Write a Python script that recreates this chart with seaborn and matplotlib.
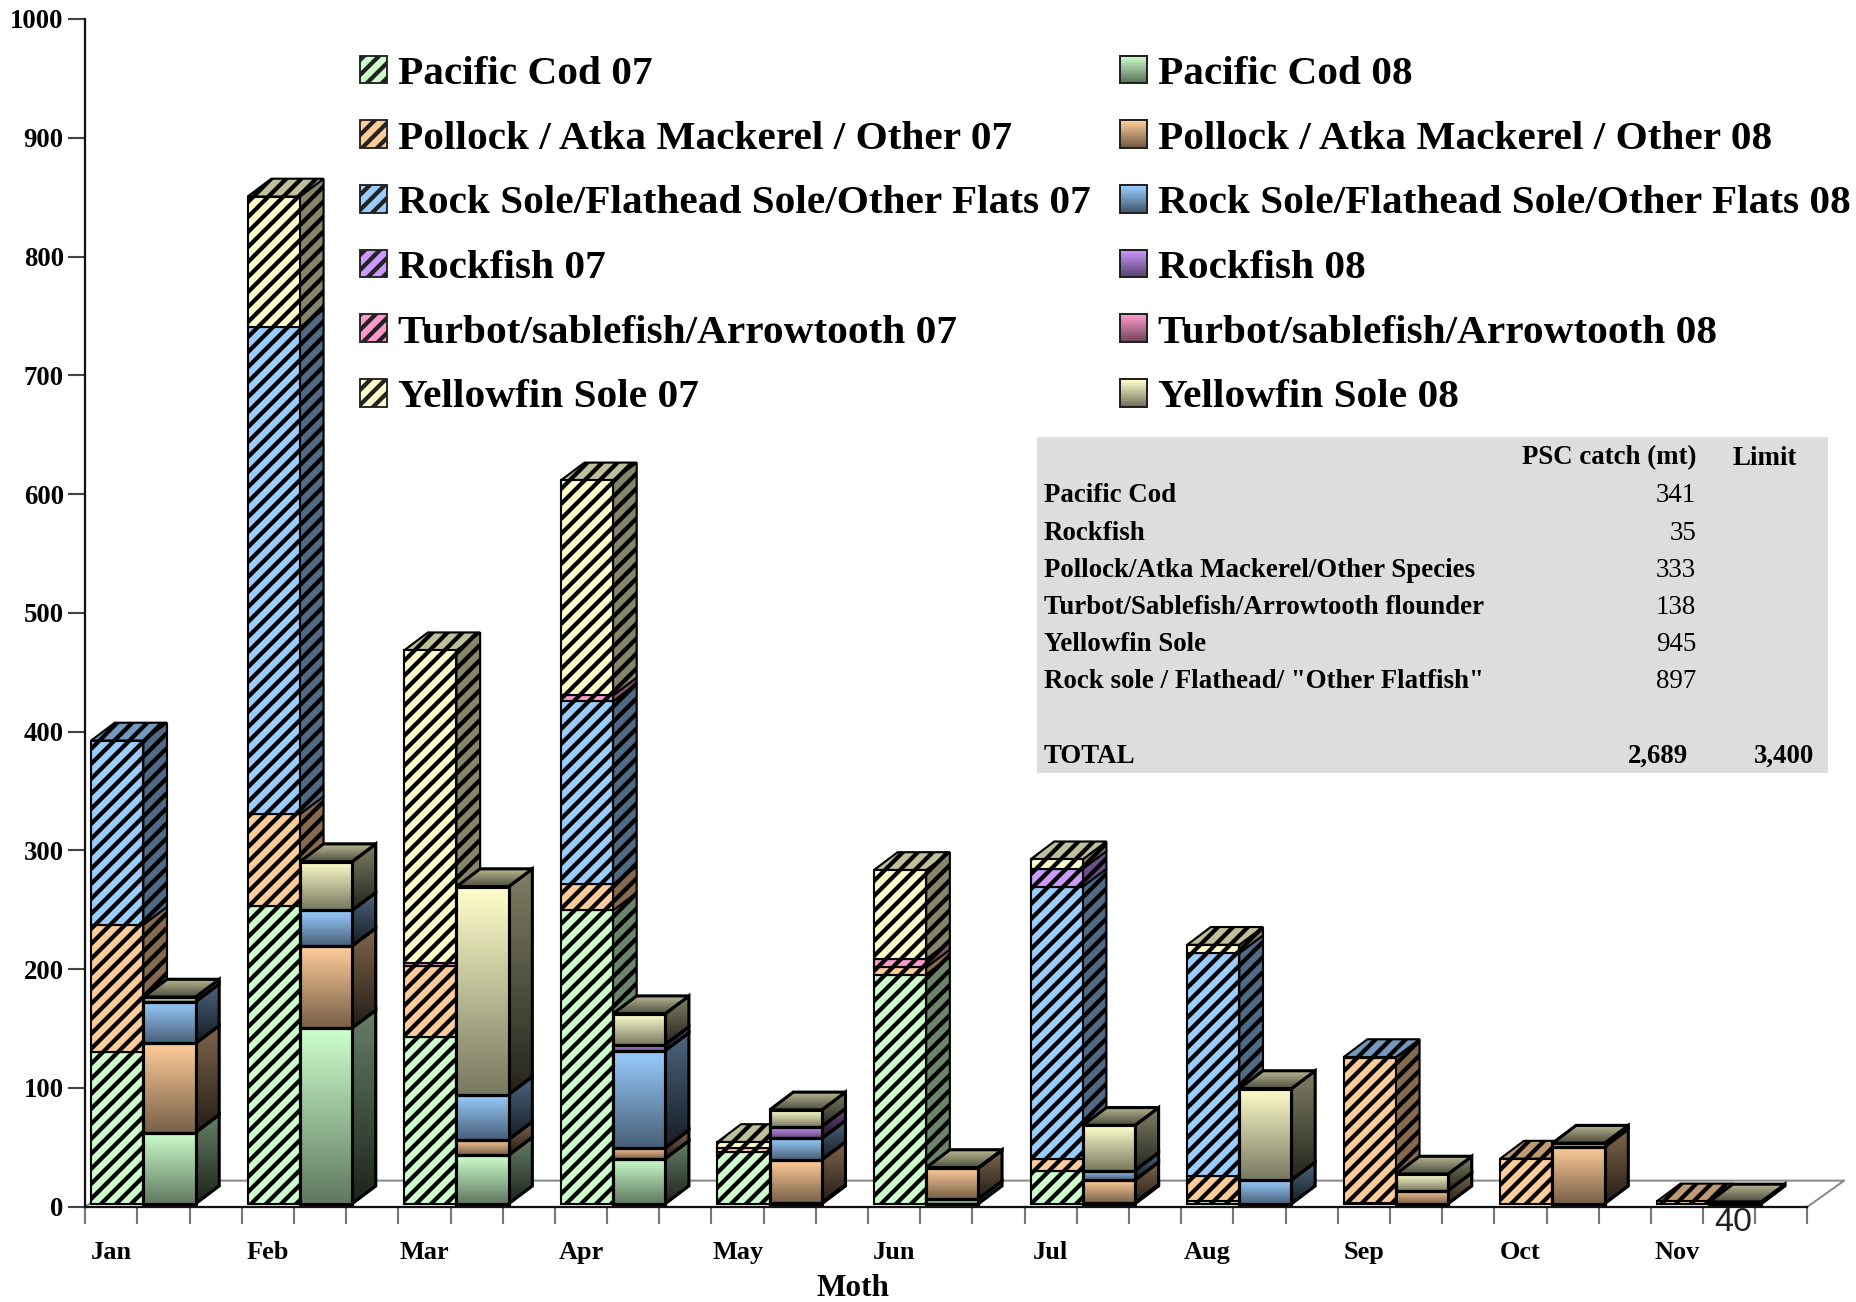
import numpy as np
import pandas as pd
import matplotlib
matplotlib.use('Agg')
import matplotlib.pyplot as plt
from matplotlib.legend_handler import HandlerBase
from matplotlib.patches import Patch, Polygon, Rectangle
from matplotlib.ticker import NullFormatter
import seaborn as sns

months = ['Jan', 'Feb', 'Mar', 'Apr', 'May', 'Jun', 'Jul', 'Aug', 'Sep', 'Oct', 'Nov']
y_ticks = [0, 100, 200, 300, 400, 500, 600, 700, 800, 900, 1000]

# bottom to top, one value per month
cod_07 = [128, 251, 140, 247, 44, 193, 28, 2, 1, 0, 0]
pollock_07 = [107, 77, 60, 22, 3, 6, 10, 21, 122, 38, 2]
rock_sole_07 = [155, 410, 0, 154, 0, 0, 229, 188, 0.5, 0, 0]
rockfish_07 = [0, 0, 0, 0, 0, 0, 15, 0, 0, 0, 0]
turbot_07 = [0, 0, 3, 5, 0, 7, 0, 0, 0, 0, 0]
yellowfin_07 = [0, 110, 263, 181, 5, 75, 8, 7, 0, 0, 0]

cod_08 = [60, 148, 41, 38, 1, 4, 1, 0, 0, 0, 0]
pollock_08 = [75, 69, 13, 9, 36, 26, 19, 0, 11, 48, 0]
rock_sole_08 = [35, 30, 38, 82, 18, 0, 8, 20, 0, 0, 1]
rockfish_08 = [0, 0, 0, 5, 10, 0, 0, 0, 0, 0, 0]
turbot_08 = [0, 0, 0, 0, 0, 0, 0, 0, 0, 0, 0]
yellowfin_08 = [4, 41, 175, 26, 14, 0.5, 38, 77, 14, 3, 0.5]

series_names = ['Pacific Cod', 'Pollock / Atka Mackerel / Other',
                'Rock Sole/Flathead Sole/Other Flats', 'Rockfish',
                'Turbot/sablefish/Arrowtooth', 'Yellowfin Sole']
series_colors = ['#CCFFCC', '#FFCC99', '#99CCFF', '#CC99FF', '#FF99CC', '#FFFFCC']
values_07 = [cod_07, pollock_07, rock_sole_07, rockfish_07, turbot_07, yellowfin_07]
values_08 = [cod_08, pollock_08, rock_sole_08, rockfish_08, turbot_08, yellowfin_08]

table_header = ['PSC catch (mt)', 'Limit']
table_rows = ['Pacific Cod', 'Rockfish', 'Pollock/Atka Mackerel/Other Species',
              'Turbot/Sablefish/Arrowtooth flounder', 'Yellowfin Sole',
              'Rock sole / Flathead/ "Other Flatfish"']
table_catch = ['341', '35', '333', '138', '945', '897']
table_total = ['TOTAL', '2,689', '3,400']

W, H = 1856, 1302
DPI = 90
S = W / 1568  # the measurements below were taken on the 1568 wide view

# slot width and 3d depth
SLOT_PX = 1455 / 33
BAR_DX = 20 / SLOT_PX
BAR_DY = 15
FLOOR_DX = 31 / SLOT_PX
FLOOR_DY = 22
BASE = 2.5
X_LEFT = -5 / SLOT_PX - 0.5
HATCH = '//'

sns.set_theme(style='white')
plt.rcParams['font.family'] = ['Liberation Serif', 'DejaVu Serif']
plt.rcParams['font.weight'] = 'bold'
plt.rcParams['hatch.linewidth'] = 3.4


def shade(color, k):
    return np.array(matplotlib.colors.to_rgb(color)) * k


def gradient_face(ax, verts, start, stop, z):
    # start is the colour at the top of the face
    verts = np.array(verts)
    ramp = np.linspace(0, 1, 64)[:, None, None]
    img = start * (1 - ramp) + stop * ramp
    extent = (verts[:, 0].min(), verts[:, 0].max(), verts[:, 1].min(), verts[:, 1].max())
    im = ax.imshow(img, extent=extent, origin='upper', aspect='auto',
                   interpolation='bilinear', zorder=z)
    clip = Polygon(verts, transform=ax.transData, facecolor='none', edgecolor='none')
    im.set_clip_path(clip)


class GradientHandler(HandlerBase):
    def create_artists(self, legend, handle, xd, yd, width, height, fontsize, trans):
        base = handle.get_facecolor()[:3]
        out = []
        n = 14
        for i in range(n):
            k = 1 - 0.55 * i / (n - 1)
            out.append(Rectangle((-xd, -yd + height * (n - 1 - i) / n), width, height / n + 0.3,
                                 facecolor=shade(base, k), edgecolor='none', transform=trans))
        out.append(Rectangle((-xd, -yd), width, height, facecolor='none', edgecolor='#222222',
                             lw=1.6, transform=trans))
        return out


fig = plt.figure(figsize=(W / DPI, H / DPI), dpi=DPI)
ax_left = 72 * S / W
ax_right = 1527 * S / W
ax_top = 1 - 16 * S / H
ax_bottom = 1 - 1019.5 * S / H
ax = fig.add_axes([ax_left, ax_bottom, ax_right - ax_left, ax_top - ax_bottom])

slots = list(range(33))
faces = []
for year, table, lw in [(7, values_07, 1.7), (8, values_08, 2.5)]:
    offset = 0 if year == 7 else 1
    bottoms = np.full(len(months), BASE, dtype=float)
    for name, color, vals in zip(series_names, series_colors, table):
        vals = np.array(vals, dtype=float)
        keep = vals > 0
        if keep.any():
            df = pd.DataFrame({'slot': np.arange(len(months))[keep] * 3 + offset, 'catch': vals[keep]})
            before = len(ax.patches)
            kws = {'hatch': HATCH} if year == 7 else {}
            sns.barplot(data=df, x='slot', y='catch', order=slots, bottom=bottoms[keep], width=1.0,
                        color=color, saturation=1, edgecolor='black', linewidth=lw, errorbar=None,
                        ax=ax, **kws)
            for patch in ax.patches[before:]:
                faces.append((patch, color, year))
        bottoms += vals

# 3d faces, later slots cover the earlier ones
tops = {}
for patch, color, year in faces:
    slot = int(round(patch.get_x() + patch.get_width() / 2))
    tops[slot] = max(tops.get(slot, 0), patch.get_y() + patch.get_height())

for patch, color, year in sorted(faces, key=lambda f: (round(f[0].get_x()), f[0].get_y())):
    x0 = patch.get_x()
    x1 = x0 + patch.get_width()
    b = patch.get_y()
    t = b + patch.get_height()
    slot = int(round((x0 + x1) / 2))
    z = 5 + slot * 2 + (b / 2000)
    lw = patch.get_linewidth()
    side = [(x1, b), (x1 + BAR_DX, b + BAR_DY), (x1 + BAR_DX, t + BAR_DY), (x1, t)]
    top = [(x0, t), (x1, t), (x1 + BAR_DX, t + BAR_DY), (x0 + BAR_DX, t + BAR_DY)]
    is_top = abs(t - tops[slot]) < 1e-6
    if year == 7:
        ax.add_patch(Polygon(side, facecolor=shade(color, 0.52), edgecolor='black', lw=lw,
                             hatch=HATCH, zorder=z))
        if is_top:
            ax.add_patch(Polygon(top, facecolor=shade(color, 0.75), edgecolor='black', lw=lw,
                                 hatch=HATCH, zorder=z + 0.2))
        patch.set_zorder(z + 0.4)
    else:
        gradient_face(ax, side, shade(color, 0.5), shade(color, 0.14), z)
        ax.add_patch(Polygon(side, facecolor='none', edgecolor='black', lw=lw, zorder=z + 0.05))
        if is_top:
            gradient_face(ax, top, shade(color, 0.72), shade(color, 0.3), z + 0.1)
            ax.add_patch(Polygon(top, facecolor='none', edgecolor='black', lw=lw, zorder=z + 0.15))
        gradient_face(ax, [(x0, b), (x1, b), (x1, t), (x0, t)], shade(color, 1.0), shade(color, 0.47), z + 0.2)
        patch.set_facecolor('none')
        patch.set_zorder(z + 0.4)

x_min = X_LEFT
x_max = X_LEFT + 33
ax.set_xlim(x_min, x_max)
ax.set_ylim(0, 1000)

# floor behind the bars
ax.plot([x_min, x_min + FLOOR_DX, x_max + FLOOR_DX, x_max], [0, FLOOR_DY, FLOOR_DY, 0],
        color='#8a8a8a', lw=1.6, clip_on=False, zorder=1)

sns.despine(ax=ax, top=True, right=True)
for sp in ['left', 'bottom']:
    ax.spines[sp].set_color('#111111')
    ax.spines[sp].set_linewidth(1.8)

ax.set_yticks(y_ticks)
ax.set_yticklabels([str(v) for v in y_ticks], fontsize=21.4, fontweight='bold', color='black')
ax.tick_params(axis='y', left=True, length=13.6, width=1.7, color='#444444', pad=3.5)

ax.set_xticks(x_min + np.arange(34))
ax.xaxis.set_major_formatter(NullFormatter())
ax.tick_params(axis='x', which='major', bottom=True, length=13.6, width=1.7, color='#777777')
ax.set_xticks(x_min + 0.5 + np.arange(len(months)) * 3, labels=months, minor=True,
              fontsize=21, fontweight='bold', color='black')
ax.tick_params(axis='x', which='minor', bottom=False, length=0, pad=27.7)
ax.set_xlabel('Moth', fontsize=25, fontweight='bold', color='black', x=(721 - 72) / 1455, labelpad=8)
ax.set_ylabel('')
ax.grid(False)

# legend, 07 in the left column and 08 in the right one
handles = []
labels = []
for name, color in zip(series_names, series_colors):
    handles.append(Patch(facecolor=color, edgecolor='#222222', hatch=HATCH, lw=1.5))
    labels.append(f'{name} 07')
handles_08 = []
for name, color in zip(series_names, series_colors):
    handles_08.append(Patch(facecolor=color))
    labels.append(f'{name} 08')
handler_map = {h: GradientHandler() for h in handles_08}
leg = fig.legend(handles + handles_08, labels, ncols=2, loc='upper left',
                 bbox_to_anchor=(304 * S / W, 1 - 47 * S / H), frameon=False,
                 borderpad=0, borderaxespad=0, handlelength=0.66, handleheight=0.66,
                 handletextpad=0.27, columnspacing=0.7, labelspacing=0.662, labelcolor='black',
                 prop={'family': 'Liberation Serif', 'weight': 'bold', 'size': 33},
                 handler_map=handler_map)
leg.set_zorder(50)


# summary table, placed in figure pixels of the 1568 wide view
def table_text(x, y, s, ha='left', weight='bold'):
    fig.text(x * S / W, 1 - y * S / H, s, ha=ha, va='center', fontsize=21.5, fontweight=weight,
             color='black', family='Liberation Serif', zorder=60)


fig.add_artist(Rectangle((876 * S / W, 1 - 653 * S / H), 668 * S / W, 284 * S / H,
                         facecolor='#DDDDDD', edgecolor='none', transform=fig.transFigure, zorder=40))
table_text(1433, 387, table_header[0], ha='right')
table_text(1518, 387, table_header[1], ha='right')
for i, (row, catch) in enumerate(zip(table_rows, table_catch)):
    y = 419 + 31.3 * i
    table_text(882, y, row)
    table_text(1433, y, catch, ha='right', weight='normal')
table_text(882, 639, table_total[0])
table_text(1426, 639, table_total[1], ha='right')
table_text(1533, 639, table_total[2], ha='right')

fig.text(1464 * S / W, 1 - 1033 * S / H, '40', ha='center', va='center', fontsize=27.3,
         fontweight='normal', color='#222222', family='Liberation Sans', zorder=60)

fig.savefig('out.png', dpi=DPI, facecolor='white')
